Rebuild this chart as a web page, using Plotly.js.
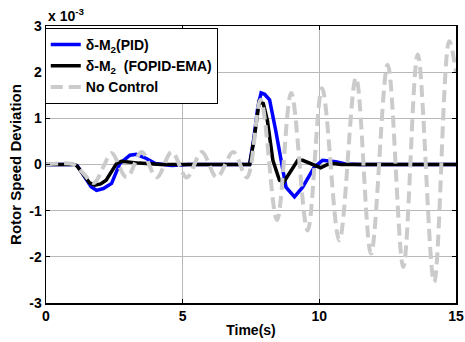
<!DOCTYPE html>
<html><head><meta charset="utf-8">
<script src="https://cdn.plot.ly/plotly-3.0.1.min.js"></script>
<style>html,body{margin:0;padding:0;background:#fff}#chart{width:465px;height:342px}</style>
</head><body><div id="chart"></div>
<script>
// Values in units of 1e-3
const pidTime = [0, 1.0, 1.15, 1.4, 1.65, 1.85, 2.1, 2.4, 2.7, 3.07, 3.3, 3.67, 4.0, 4.6, 5.2, 7.45, 7.6, 7.75, 7.87, 8.0, 8.18, 8.4, 8.6, 8.78, 9.09, 9.39, 9.82, 10.12, 10.6, 10.96, 11.5, 15];
const pidVals = [0, 0, -0.03, -0.25, -0.48, -0.56, -0.52, -0.41, 0.02, 0.20, 0.22, 0.13, 0.02, -0.02, 0, 0, 0.55, 1.25, 1.55, 1.52, 1.40, 0.75, 0.09, -0.49, -0.70, -0.49, -0.05, 0.09, 0.06, 0.01, 0, 0];

const fopidTime = [0, 1.0, 1.12, 1.35, 1.6, 1.79, 2.0, 2.2, 2.58, 2.76, 3.4, 4.2, 7.45, 7.6, 7.8, 7.95, 8.1, 8.3, 8.54, 8.7, 9.21, 9.39, 9.94, 10.05, 10.3, 10.5, 10.8, 15];
const fopidVals = [0, 0, -0.02, -0.2, -0.4, -0.45, -0.42, -0.34, 0.02, 0.07, 0.03, 0, 0, 0.5, 1.36, 1.32, 0.95, 0.09, -0.34, -0.38, 0.09, 0.09, -0.05, -0.07, 0.0, 0.02, 0, 0];

const ncTime = [0, 1.0, 1.3, 1.75, 2.1, 2.4, 2.95, 3.5, 4.05, 4.6, 5.15, 5.7, 6.25, 6.85, 7.35, 7.85, 8.45, 8.97, 9.57, 10.1, 10.73, 11.34, 11.89, 12.5, 13.07, 13.6, 14.2, 14.75, 15];
const ncVals = [0, 0, -0.15, -0.4, -0.05, 0.25, -0.28, 0.27, -0.28, 0.27, -0.28, 0.27, -0.28, 0.27, -0.28, 1.4, -1.2, 1.55, -1.43, 1.65, -1.64, 1.88, -1.93, 2.16, -2.22, 2.38, -2.55, 2.67, 2.0];

const seriesNames = ['δ-M<sub>2</sub>(PID)', 'δ-M<sub>2</sub>\u00A0\u00A0(FOPID-EMA)', 'No Control'];
const yTicks = [-3, -2, -1, 0, 1, 2, 3];
const xTicks = [0, 5, 10, 15];

const fam = 'Arial, Liberation Sans, sans-serif';
const f = (s) => ({family: fam, size: s, color: '#000', weight: 'bold'});

const traces = [
  {x: pidTime, y: pidVals, name: seriesNames[0], type: 'scatter', mode: 'lines',
   line: {color: '#0000ff', width: 3.5}},
  {x: fopidTime, y: fopidVals, name: seriesNames[1], type: 'scatter', mode: 'lines',
   line: {color: '#000000', width: 3.5}},
  {x: ncTime, y: ncVals, name: seriesNames[2], type: 'scatter', mode: 'lines',
   line: {color: '#cbcbcb', width: 4, dash: '12px,6px', shape: 'spline', smoothing: 1}}
];

const layout = {
  width: 465, height: 342,
  margin: {l: 46, r: 9, t: 26, b: 39},
  paper_bgcolor: '#fff', plot_bgcolor: '#fff',
  font: f(14),
  showlegend: true,
  legend: {x: -0.003, y: 0.993, xanchor: 'left', yanchor: 'top',
           bgcolor: '#fff', bordercolor: '#000', borderwidth: 1,
           font: f(14), tracegroupgap: 0, itemwidth: 30},
  xaxis: {range: [0, 15], tickvals: xTicks, ticktext: xTicks.map(String),
          showgrid: true, gridcolor: '#b8b8b8', gridwidth: 1,
          zeroline: false, showline: true, linecolor: '#000', linewidth: 1.5, mirror: 'ticks',
          ticks: 'inside', ticklen: 4, tickcolor: '#000',
          tickfont: f(14),
          title: {text: 'Time(s)', standoff: 2, font: f(14)}},
  yaxis: {range: [-3, 3], tickvals: yTicks, ticktext: yTicks.map(String),
          showgrid: true, gridcolor: '#b8b8b8', gridwidth: 1,
          zeroline: false, showline: true, linecolor: '#000', linewidth: 1.5, mirror: 'ticks',
          ticks: 'inside', ticklen: 4, tickcolor: '#000',
          tickfont: f(14),
          title: {text: 'Rotor Speed Deviation', standoff: 4, font: f(15)}},
  annotations: [{xref: 'paper', yref: 'paper', x: 0.0, y: 1.0, xanchor: 'left', yanchor: 'bottom',
                 text: 'x 10<sup>-3</sup>', showarrow: false, font: f(14)}]
};

Plotly.newPlot('chart', traces, layout, {displayModeBar: false, staticPlot: true});
</script></body></html>
